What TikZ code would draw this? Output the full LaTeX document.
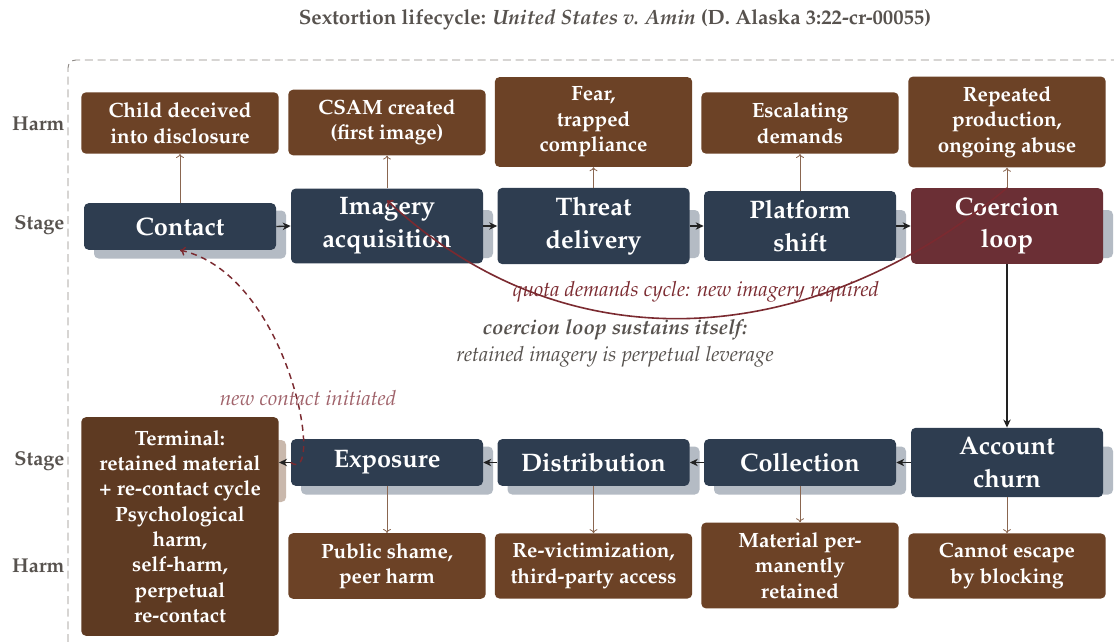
\documentclass[tikz,border=0pt]{standalone}
\usepackage[T1]{fontenc}
\usepackage{mathpazo}
\usetikzlibrary{arrows.meta,backgrounds,calc}

\definecolor{navy}{HTML}{2E3D50}
\definecolor{harmc}{HTML}{6C4226}
\definecolor{termc}{HTML}{5E3A22}
\definecolor{coerc}{HTML}{6B2F35}
\definecolor{shadowc}{HTML}{B4BBC4}
\definecolor{termshadow}{HTML}{C9B8AC}
\definecolor{textgray}{HTML}{57524E}
\definecolor{loopc}{HTML}{7B2A30}
\definecolor{newcc}{HTML}{A0626A}
\definecolor{linkc}{HTML}{8A6650}
\definecolor{framec}{HTML}{8E8985}
\definecolor{flowc}{HTML}{222222}

\begin{document}
\begin{tikzpicture}[x=0.75pt,y=-0.75pt,
  stagebox/.style={fill=navy, text=white, rounded corners=3.5pt,
    minimum width=144pt, minimum height=35pt, inner xsep=4pt, inner ysep=7pt,
    align=center, font=\fontsize{19}{24.5}\selectfont\bfseries},
  harmbox/.style={fill=harmc, text=white, rounded corners=3.5pt,
    minimum width=148pt, minimum height=46pt, inner xsep=4pt, inner ysep=7.5pt,
    align=center, font=\fontsize{15.5}{19}\selectfont\bfseries},
  sidelab/.style={anchor=east, text=textgray, inner sep=1pt,
    font=\fontsize{15}{18}\selectfont\bfseries},
  flow/.style={draw=flowc, line width=1pt, -{Stealth[length=6pt,width=5.5pt,inset=1.8pt]}},
  harmlink/.style={draw=linkc, line width=0.6pt, -{To[length=3pt,width=6pt]}},
  note/.style={inner sep=1pt, font=\fontsize{15.6}{18}\selectfont\itshape}
]
\useasboundingbox (0,0) rectangle (1114,642);

% outer dashed frame
\draw[framec, line width=0.7pt, dash pattern=on 6pt off 3.5pt, rounded corners=6pt]
  (68,642) -- (68,60) -- (1114,60);

% title
\node[text=textgray, font=\fontsize{15.5}{18}\selectfont\bfseries] (title) at (615,20)
  {Sextortion lifecycle: \textit{United States v. Amin} (D. Alaska 3:22-cr-00055)};

% row labels
\node[sidelab] (labh1) at (66,124) {Harm};
\node[sidelab] (labs1) at (66,225) {Stage};
\node[sidelab] (labs2) at (66,461) {Stage};
\node[sidelab] (labh2) at (66,566) {Harm};

% harms of the escalation stages
\node[harmbox] (h1) at (180,123) {Child deceived\\into disclosure};
\node[harmbox] (h2) at (387,122.5) {CSAM created\\(first image)};
\node[harmbox] (h3) at (593.5,122) {Fear,\\trapped\\compliance};
\node[harmbox] (h4) at (800,123) {Escalating\\demands};
\node[harmbox] (h5) at (1007,122) {Repeated\\production,\\ongoing abuse};

% escalation stages
\node[stagebox] (contact) at (180,226.5) {Contact};
\node[stagebox] (acq) at (387,226) {Imagery\\acquisition};
\node[stagebox] (threat) at (593.5,226) {Threat\\delivery};
\node[stagebox] (platform) at (800,226) {Platform\\shift};
\node[stagebox, fill=coerc] (coercion) at (1007,226) {Coercion\\loop};

% aftermath stages
\node[stagebox] (churn) at (1007,462.5) {Account\\churn};
\node[stagebox] (collect) at (800,462.5) {Collection};
\node[stagebox] (distrib) at (593.5,462.5) {Distribution};
\node[stagebox] (expose) at (387,462.5) {Exposure};
\node[harmbox, fill=termc, minimum height=164pt] (terminal) at (180,526.5)
  {Terminal:\\retained material\\+ re-contact cycle\\Psychological\\harm,\\self-harm,\\perpetual\\re-contact};

% harms of the aftermath stages
\node[harmbox] (b2) at (387,566) {Public shame,\\peer harm};
\node[harmbox] (b3) at (593.5,566) {Re-victimization,\\third-party access};
\node[harmbox] (b4) at (800,565.5) {Material per-\\manently\\retained};
\node[harmbox] (b5) at (1007,566) {Cannot escape\\by blocking};

% white page and offset shadows behind the stage boxes
\begin{pgfonlayer}{background}
  \fill[white] (0,0) rectangle (1114,642);
  \foreach \n in {contact,acq,threat,platform,coercion,churn,collect,distrib,expose}
    \fill[shadowc, rounded corners=3.5pt]
      ($(\n.center)+(-86,-16)$) rectangle ($(\n.center)+(106,32)$);
  \fill[termshadow, rounded corners=3.5pt]
    ($(terminal.center)+(-88,-86.5)$) rectangle ($(terminal.center)+(106,-24.5)$);
\end{pgfonlayer}

% stage sequence
\foreach \a/\b in {contact/acq, acq/threat, threat/platform, platform/coercion}
  \draw[flow] (\a.east) -- (\b.west);
\foreach \a/\b in {churn/collect, collect/distrib, distrib/expose}
  \draw[flow] (\a.west) -- (\b.east);
\draw[flow] (expose.west) -- (expose.west -| terminal.east);
\draw[flow, line width=1.3pt] (coercion.south) -- (churn.north);

% stage-to-harm links
\foreach \s/\h in {contact/h1, acq/h2, threat/h3, platform/h4, coercion/h5}
  \draw[harmlink] (\s.north) -- (\h.south);
\foreach \s/\h in {expose/b2, distrib/b3, collect/b4, churn/b5}
  \draw[harmlink] (\s.south) -- (\h.north);

% quota loop back to imagery acquisition
\draw[loopc, line width=1.2pt, -{To[length=4pt,width=7pt]}]
  (coercion.north) .. controls +(-195,163) and +(180,168) .. ([yshift=-9pt]acq.north);
\node[note, text=loopc] (quota) at (696,292) {quota demands cycle: new imagery required};

% self-sustaining note
\node[note, text=textgray, font=\fontsize{15.6}{18}\selectfont\bfseries\itshape] (sus1) at (615,330)
  {coercion loop sustains itself:};
\node[note, text=textgray] (sus2) at (615,357) {retained imagery is perpetual leverage};

% re-contact cycle
\draw[loopc, line width=1.1pt, dash pattern=on 4.5pt off 3.5pt, -{To[length=4pt,width=7pt]}]
  (expose.west) .. controls +(35,25) and +(110,25) .. (contact.south);
\node[note, text=newcc] (newc) at (308,398) {new contact initiated};
\end{tikzpicture}
\end{document}
